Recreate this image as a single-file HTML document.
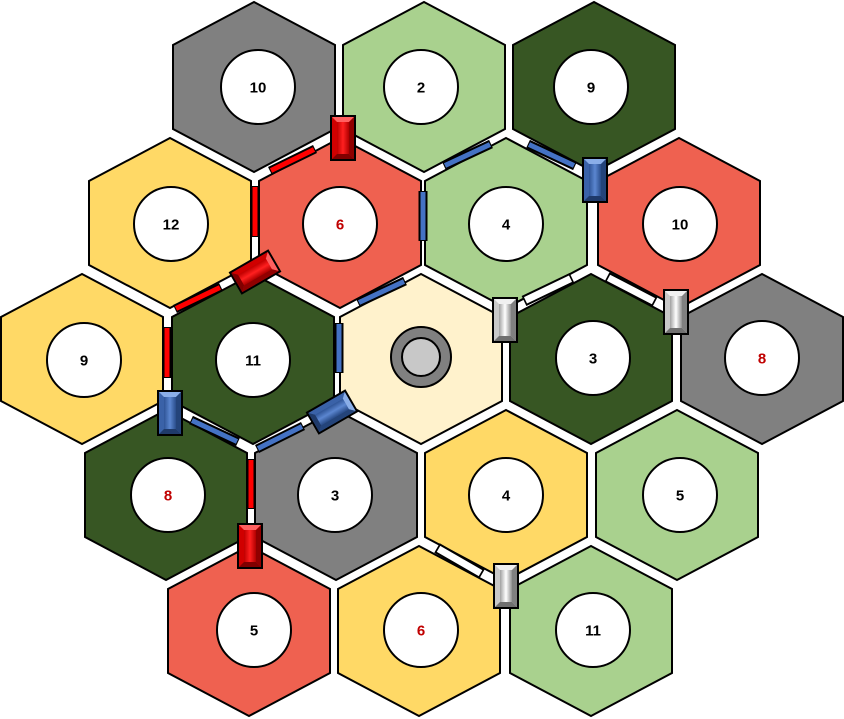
<!DOCTYPE html>
<html><head><meta charset="utf-8"><style>
html,body{margin:0;padding:0;background:#fff;}
svg{display:block;}
text{font-family:"Liberation Sans",sans-serif;font-weight:bold;font-size:15px;text-anchor:middle;dominant-baseline:central;}
</style></head><body>
<svg width="844" height="719" viewBox="0 0 844 719" xmlns="http://www.w3.org/2000/svg">
<defs>
<polygon id="hx" points="0,-85 81,-42 81,42 0,85 -81,42 -81,-42" stroke="#000" stroke-width="2"/>
<linearGradient id="gr" x1="0" x2="1"><stop offset="0" stop-color="#c00000"/><stop offset="0.5" stop-color="#ff2020"/><stop offset="1" stop-color="#b00000"/></linearGradient>
<linearGradient id="gb" x1="0" x2="1"><stop offset="0" stop-color="#2f5597"/><stop offset="0.5" stop-color="#5b86d0"/><stop offset="1" stop-color="#2a4d8a"/></linearGradient>
<linearGradient id="gw" x1="0" x2="1"><stop offset="0" stop-color="#a0a0a0"/><stop offset="0.5" stop-color="#ffffff"/><stop offset="1" stop-color="#909090"/></linearGradient>
<g id="sr"><rect x="-12" y="-22" width="24" height="44" fill="#d00000" stroke="#000" stroke-width="2"/><polygon points="-11,-21 11,-21 6,-16 -6,-16" fill="#ff6060"/><polygon points="-11,21 11,21 6,16 -6,16" fill="#800000"/><polygon points="11,-21 11,21 6,16 6,-16" fill="#900000"/><rect x="-6" y="-16" width="12" height="32" fill="url(#gr)"/></g>
<g id="sb"><rect x="-12" y="-22" width="24" height="44" fill="#3a62a8" stroke="#000" stroke-width="2"/><polygon points="-11,-21 11,-21 6,-16 -6,-16" fill="#8aaee8"/><polygon points="-11,21 11,21 6,16 -6,16" fill="#1f3a6a"/><polygon points="11,-21 11,21 6,16 6,-16" fill="#24447a"/><rect x="-6" y="-16" width="12" height="32" fill="url(#gb)"/></g>
<g id="sw"><rect x="-12" y="-22" width="24" height="44" fill="#c8c8c8" stroke="#000" stroke-width="2"/><polygon points="-11,-21 11,-21 6,-16 -6,-16" fill="#f0f0f0"/><polygon points="-11,21 11,21 6,16 -6,16" fill="#707070"/><polygon points="11,-21 11,21 6,16 6,-16" fill="#808080"/><rect x="-6" y="-16" width="12" height="32" fill="url(#gw)"/></g>
</defs>
<g>
<use href="#hx" x="254" y="87" fill="#808080"/>
<use href="#hx" x="424" y="87" fill="#a9d18e"/>
<use href="#hx" x="594" y="87" fill="#375623"/>
<use href="#hx" x="170" y="223" fill="#ffd966"/>
<use href="#hx" x="340" y="223" fill="#ef6150"/>
<use href="#hx" x="506" y="223" fill="#a9d18e"/>
<use href="#hx" x="679" y="223" fill="#ef6150"/>
<use href="#hx" x="82" y="359" fill="#ffd966"/>
<use href="#hx" x="253" y="359" fill="#375623"/>
<use href="#hx" x="421" y="359" fill="#fff2cc"/>
<use href="#hx" x="591" y="359" fill="#375623"/>
<use href="#hx" x="762" y="359" fill="#808080"/>
<use href="#hx" x="166" y="495" fill="#375623"/>
<use href="#hx" x="336" y="495" fill="#808080"/>
<use href="#hx" x="506" y="495" fill="#ffd966"/>
<use href="#hx" x="677" y="495" fill="#a9d18e"/>
<use href="#hx" x="249" y="631" fill="#ef6150"/>
<use href="#hx" x="419" y="631" fill="#ffd966"/>
<use href="#hx" x="591" y="631" fill="#a9d18e"/>
</g>
<g stroke="#000" stroke-width="2" fill="#fff">
<circle cx="258" cy="87" r="37"/><circle cx="421" cy="87" r="37"/><circle cx="591" cy="87" r="37"/>
<circle cx="171" cy="224" r="37"/><circle cx="340" cy="224" r="37"/><circle cx="506" cy="224" r="37"/><circle cx="680" cy="224" r="37"/>
<circle cx="84" cy="360" r="37"/><circle cx="253" cy="360" r="37"/><circle cx="593" cy="358" r="37"/><circle cx="762" cy="358" r="37"/>
<circle cx="168" cy="495" r="37"/><circle cx="335" cy="495" r="37"/><circle cx="506" cy="495" r="37"/><circle cx="680" cy="495" r="37"/>
<circle cx="254" cy="630" r="37"/><circle cx="421" cy="630" r="37"/><circle cx="593" cy="630" r="37"/>
</g>
<circle cx="421" cy="357" r="30" fill="#808080" stroke="#000" stroke-width="2"/>
<circle cx="421" cy="357" r="19" fill="#c8c8c8" stroke="#000" stroke-width="2"/>
<g fill="#000">
<text x="258" y="88">10</text><text x="421" y="88">2</text><text x="591" y="88">9</text>
<text x="171" y="225">12</text><text x="340" y="225" fill="#c00000">6</text><text x="506" y="225">4</text><text x="680" y="225">10</text>
<text x="84" y="361">9</text><text x="253" y="361">11</text><text x="593" y="359">3</text><text x="762" y="359" fill="#c00000">8</text>
<text x="168" y="496" fill="#c00000">8</text><text x="335" y="496">3</text><text x="506" y="496">4</text><text x="680" y="496">5</text>
<text x="254" y="631">5</text><text x="421" y="631" fill="#c00000">6</text><text x="593" y="631">11</text>
</g>
<g stroke="#000" stroke-width="9" stroke-linecap="butt">
<line x1="270" y1="171" x2="315" y2="149"/><line x1="255" y1="186" x2="255" y2="237"/><line x1="175" y1="309" x2="221" y2="287"/><line x1="167" y1="327" x2="167" y2="378"/><line x1="251" y1="459" x2="251" y2="509"/>
<line x1="444" y1="166" x2="491" y2="144"/><line x1="528" y1="144" x2="575" y2="166"/><line x1="423" y1="191" x2="423" y2="241"/><line x1="358" y1="303" x2="405" y2="281"/><line x1="339" y1="323" x2="339" y2="373"/><line x1="191" y1="420" x2="238" y2="442"/><line x1="257" y1="449" x2="303" y2="426"/>
</g>
<g stroke="#000" stroke-width="11" stroke-linecap="butt">
<line x1="524" y1="301" x2="572" y2="278"/><line x1="607" y1="277" x2="655" y2="302"/><line x1="437" y1="548" x2="482" y2="574"/>
</g>
<g stroke-width="5">
<g stroke="#ff0000"><line x1="271" y1="170.5" x2="314" y2="149.5"/><line x1="255" y1="187" x2="255" y2="236"/><line x1="176" y1="308.5" x2="220" y2="287.5"/><line x1="167" y1="328" x2="167" y2="377"/><line x1="251" y1="460" x2="251" y2="508"/></g>
<g stroke="#4472c4"><line x1="445" y1="165.5" x2="490" y2="144.5"/><line x1="529" y1="144.5" x2="574" y2="165.5"/><line x1="423" y1="192" x2="423" y2="240"/><line x1="359" y1="302.5" x2="404" y2="281.5"/><line x1="339" y1="324" x2="339" y2="372"/><line x1="192" y1="420.5" x2="237" y2="441.5"/><line x1="258" y1="448.5" x2="302" y2="426.5"/></g>
<g stroke="#ffffff" stroke-width="7"><line x1="525.5" y1="300.3" x2="570.5" y2="278.7"/><line x1="608.5" y1="277.8" x2="653.5" y2="301.2"/><line x1="438.5" y1="548.9" x2="480.5" y2="573.1"/></g>
</g>
<use href="#sr" transform="translate(343,138)"/>
<use href="#sr" transform="translate(255,272) rotate(60)"/>
<use href="#sr" transform="translate(250,546)"/>
<use href="#sb" transform="translate(595,180)"/>
<use href="#sb" transform="translate(170,413)"/>
<use href="#sb" transform="translate(332,412) rotate(60)"/>
<use href="#sw" transform="translate(505,320)"/>
<use href="#sw" transform="translate(676,312)"/>
<use href="#sw" transform="translate(506,586)"/>
</svg>
</body></html>
